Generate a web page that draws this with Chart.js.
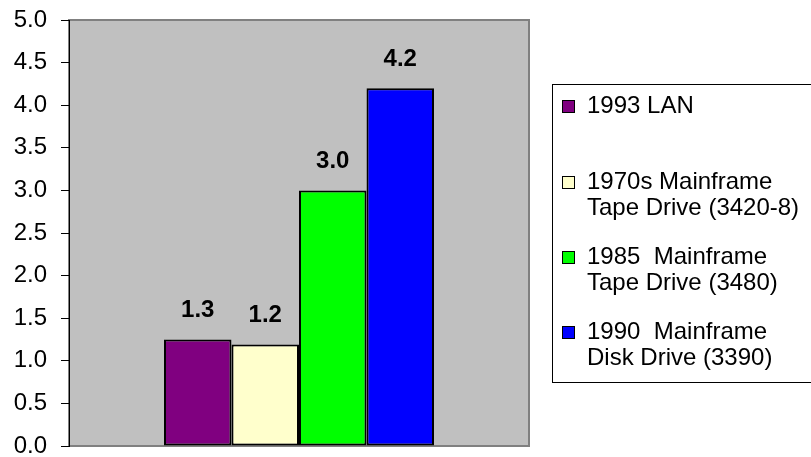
<!DOCTYPE html>
<html>
<head>
<meta charset="utf-8">
<script src="https://cdn.jsdelivr.net/npm/chart.js@4/dist/chart.umd.min.js"></script>
<style>
  html, body { margin: 0; padding: 0; background: #fff; }
</style>
</head>
<body>
<canvas id="chart" width="811" height="457"></canvas>
<script>
// data
const categories = ['']
const seriesNames = [
  ['1993 LAN'],
  ['1970s Mainframe', 'Tape Drive (3420-8)'],
  ['1985  Mainframe', 'Tape Drive (3480)'],
  ['1990  Mainframe', 'Disk Drive (3390)']
]
const values = [1.25, 1.19, 3.0, 4.2]
const colors = ['#800080', '#FFFFCC', '#00FF00', '#0000FF']
const yMin = 0
const yMax = 5
const yStep = 0.5

const FONT = '"Liberation Sans", Arial, sans-serif'

// grey plot area with a thin border
const plotBg = {
  id: 'plotBg',
  beforeDraw (chart) {
    const { ctx, chartArea: a } = chart
    ctx.save()
    ctx.fillStyle = '#C0C0C0'
    ctx.fillRect(a.left, a.top, a.right - a.left, a.bottom - a.top)
    ctx.strokeStyle = '#808080'
    ctx.lineWidth = 2
    ctx.strokeRect(a.left, a.top, a.right - a.left, a.bottom - a.top)
    ctx.restore()
  }
}

// value labels above each bar
const barLabels = {
  id: 'barLabels',
  afterDatasetsDraw (chart) {
    const ctx = chart.ctx
    ctx.save()
    ctx.font = 'bold 24px ' + FONT
    ctx.fillStyle = '#000'
    ctx.textAlign = 'center'
    ctx.textBaseline = 'middle'
    chart.data.datasets.forEach((ds, i) => {
      const bar = chart.getDatasetMeta(i).data[0]
      ctx.fillText(ds.data[0].toFixed(1), bar.x, bar.y - 29)
    })
    ctx.restore()
  }
}

// boxed legend on the right, labels wrap over two lines
const boxLegend = {
  id: 'boxLegend',
  afterDraw (chart) {
    const ctx = chart.ctx
    const rowY = [106, 182, 257, 332]
    const lineH = 26
    ctx.save()
    ctx.strokeStyle = '#000'
    ctx.lineWidth = 1
    ctx.strokeRect(552.5, 84.5, 300, 298)
    ctx.font = '24px ' + FONT
    ctx.textBaseline = 'middle'
    ctx.textAlign = 'left'
    chart.data.datasets.forEach((ds, i) => {
      const y = rowY[i]
      ctx.fillStyle = ds.backgroundColor
      ctx.fillRect(562, y - 6, 13, 13)
      ctx.strokeStyle = '#000'
      ctx.strokeRect(562.5, y - 5.5, 12, 12)
      ctx.fillStyle = '#000'
      ds.lines.forEach((t, k) => ctx.fillText(t, 587, y + k * lineH))
    })
    ctx.restore()
  }
}

new Chart(document.getElementById('chart'), {
  type: 'bar',
  data: {
    labels: categories,
    datasets: seriesNames.map((name, i) => ({
      label: name.join(' '),
      lines: name,
      data: [values[i]],
      backgroundColor: colors[i],
      borderColor: '#000',
      borderWidth: 2,
      borderSkipped: false,
      barPercentage: 1,
      categoryPercentage: 0.587
    }))
  },
  options: {
    responsive: false,
    animation: false,
    layout: { padding: { top: 20, right: 282, bottom: 11, left: 0 } },
    plugins: {
      legend: { display: false },
      tooltip: { enabled: false }
    },
    scales: {
      x: { display: false },
      y: {
        min: yMin,
        max: yMax,
        afterFit (scale) {
          scale.width = 69
          scale.paddingTop = 0
          scale.paddingBottom = 0
        },
        ticks: {
          stepSize: yStep,
          padding: 14,
          color: '#000',
          font: { family: FONT, size: 24 },
          callback: v => v.toFixed(1)
        },
        grid: { drawOnChartArea: false, tickLength: 8, color: '#000' },
        border: { color: '#000', width: 1 }
      }
    }
  },
  plugins: [plotBg, barLabels, boxLegend]
})
</script>
</body>
</html>
